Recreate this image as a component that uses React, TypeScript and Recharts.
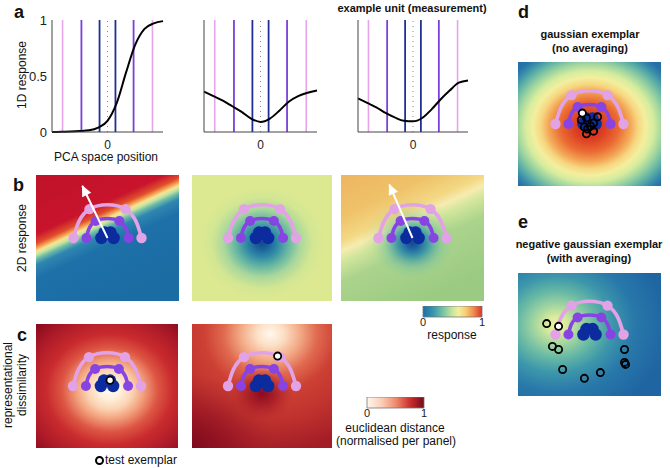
import React from 'react'
import { ComposedChart, LineChart, Line, Scatter, XAxis, YAxis, ReferenceLine, ReferenceArea } from 'recharts'

const FONT = '"Liberation Sans", Arial, Helvetica, sans-serif'

// ---- panel a: 1D responses along the PCA axis
const pcaX = [-3, -2.5, -2, -1.5, -1, -0.5, 0, 0.5, 1, 1.5, 2, 2.5, 3]
const sigmoidResp = [0, 0.002, 0.004, 0.008, 0.015, 0.04, 0.1, 0.26, 0.53, 0.78, 0.92, 0.97, 0.99]
const dipResp = [0.36, 0.32, 0.28, 0.23, 0.18, 0.12, 0.09, 0.12, 0.19, 0.27, 0.32, 0.35, 0.37]
const skewResp = [0.3, 0.26, 0.22, 0.17, 0.13, 0.1, 0.095, 0.125, 0.2, 0.29, 0.37, 0.44, 0.46]
// projected exemplar positions (one per ring, mirrored)
const projBlue = 0.43
const projPurple = 1.41
const projPink = 2.43

// ---- exemplar rings in the 2D space (pink radius = 1)
type Pt = { x: number; y: number }
const ringPink: Pt[] = [{ x: -1, y: 0 }, { x: -0.53, y: 0.85 }, { x: 0.53, y: 0.85 }, { x: 1, y: 0 }]
const ringPurple: Pt[] = [{ x: -0.62, y: 0 }, { x: -0.35, y: 0.5 }, { x: 0.35, y: 0.5 }, { x: 0.62, y: 0 }]
const ringBlue: Pt[] = [{ x: -0.18, y: 0 }, { x: -0.09, y: 0.16 }, { x: 0.09, y: 0.16 }, { x: 0.18, y: 0 }]

const arrowB1: Pt[] = [{ x: 0, y: 0 }, { x: -0.74, y: 1.53 }]
const arrowB3: Pt[] = [{ x: 0, y: 0 }, { x: -0.68, y: 1.57 }]

const testC1: Pt[] = [{ x: 0.09, y: 0.17 }]
const testC2: Pt[] = [{ x: 0.46, y: 0.88 }]
const testDWhite: Pt[] = [{ x: -0.21, y: 0.32 }]
const testD: Pt[] = [
  { x: -0.24, y: 0.12 }, { x: -0.09, y: 0.18 }, { x: 0.24, y: 0.21 }, { x: 0.12, y: 0.03 },
  { x: -0.15, y: -0.09 }, { x: -0.06, y: -0.15 }, { x: -0.09, y: -0.29 }, { x: 0.12, y: -0.21 },
  { x: 0.03, y: -0.06 },
]
const testEWhite: Pt[] = [{ x: -0.91, y: 0.24 }]
const testE: Pt[] = [
  { x: -1.26, y: 0.32 }, { x: -1.09, y: -0.35 }, { x: -0.91, y: -0.44 }, { x: -0.79, y: -1.03 },
  { x: -0.15, y: -1.29 }, { x: 0.32, y: -1.12 }, { x: 1.03, y: -0.44 }, { x: 1.03, y: -0.82 },
  { x: 1.06, y: -0.88 },
]

const PINK = '#e2a2e6'
const PURPLE = '#8744e2'
const NAVY = '#0c2b9e'

type Stop = [number, string, number?]
type Grad = { id: string; radial?: boolean; geo: Record<string, number>; stops: Stop[] }

const respStops: Stop[] = [[0, '#1d6ea6'], [0.18, '#3a98ad'], [0.35, '#7dc6a2'], [0.5, '#c8e59c'], [0.6, '#f2ef9f'], [0.72, '#f7cf78'], [0.86, '#f08a4b'], [1, '#d7342a']]
const redStops: Stop[] = [[0, '#fff6ee'], [0.25, '#fbd0ba'], [0.5, '#f08c6e'], [0.75, '#cc302e'], [1, '#760a1b']]

const diag = { x1: 0.22, y1: -0.19, x2: 0.78, y2: 0.88 }

const gradsB1: Grad[] = [
  { id: 'b1', geo: diag, stops: [[0, '#bd1229'], [0.4, '#c8142c'], [0.455, '#e04e2e'], [0.48, '#f3a04f'], [0.5, '#f5e496'], [0.52, '#c6e4a0'], [0.545, '#6cbaa8'], [0.58, '#2f86b0'], [0.66, '#1d70a8'], [1, '#1c6ca4']] },
]
const gradsB2: Grad[] = [
  { id: 'b2', radial: true, geo: { cx: 0.5, cy: 0.54, r: 0.45 }, stops: [[0, '#16498a'], [0.1, '#1b5f9a'], [0.25, '#2f8aa6'], [0.42, '#66b6a3'], [0.6, '#a9d79c'], [0.8, '#d2e693'], [1, '#dde991']] },
]
const gradsB3: Grad[] = [
  { id: 'b3a', geo: diag, stops: [[0, '#edb35d'], [0.3, '#efc26a'], [0.44, '#f3d884'], [0.5, '#f6ecb0'], [0.56, '#d2e69c'], [0.68, '#abd38c'], [1, '#9bcb82']] },
  { id: 'b3b', radial: true, geo: { cx: 0.5, cy: 0.54, r: 0.36 }, stops: [[0, '#16498a', 1], [0.12, '#1d63a0', 1], [0.3, '#3593a8', 0.9], [0.55, '#76c0a0', 0.5], [0.8, '#a6d48f', 0.15], [1, '#a6d48f', 0]] },
]
const gradsC1: Grad[] = [
  { id: 'c1', radial: true, geo: { cx: 0.52, cy: 0.53, r: 0.72 }, stops: [[0, '#fffdf5'], [0.1, '#fff1de'], [0.22, '#fbd3b2'], [0.33, '#f2a07c'], [0.47, '#dd5643'], [0.62, '#c92b2e'], [0.82, '#ae1b28'], [1, '#8c0c1f']] },
]
const gradsC2: Grad[] = [
  { id: 'c2a', radial: true, geo: { cx: 0.56, cy: 0.08, r: 0.95 }, stops: [[0, '#fff8ee'], [0.1, '#fce0c6'], [0.22, '#f3ac88'], [0.35, '#e06a50'], [0.5, '#cd4034'], [0.72, '#c0322e'], [1, '#a31d27']] },
  { id: 'c2b', radial: true, geo: { cx: 0, cy: 1, r: 0.6 }, stops: [[0, '#7a081b', 0.9], [0.5, '#8e0f21', 0.5], [1, '#a31d27', 0]] },
  { id: 'c2c', radial: true, geo: { cx: 0.5, cy: 0.56, r: 0.22 }, stops: [[0, '#8a0a1e', 1], [0.4, '#9c1424', 0.75], [1, '#b02028', 0]] },
]
const gradsD: Grad[] = [
  { id: 'dg', radial: true, geo: { cx: 0.5, cy: 0.52, r: 0.68 }, stops: [[0, '#cf2a1e'], [0.15, '#db3d22'], [0.3, '#ea6a33'], [0.42, '#f3a656'], [0.5, '#f7d680'], [0.58, '#f3ef9e'], [0.66, '#d6ec9e'], [0.75, '#9dd4a0'], [0.85, '#5cb0a6'], [0.93, '#3889ab'], [1, '#2470a8']] },
]
const gradsE: Grad[] = [
  { id: 'eg', radial: true, geo: { cx: 0.27, cy: 0.42, r: 0.78 }, stops: [[0, '#f0f29c'], [0.08, '#dcec9c'], [0.2, '#a4d6a0'], [0.35, '#66b8a5'], [0.5, '#3d97aa'], [0.7, '#2878aa'], [1, '#1f65a2']] },
]

const GradDef = ({ g }: { g: Grad }) => {
  const stops = g.stops.map(([o, c, a], i) => <stop key={i} offset={o} stopColor={c} stopOpacity={a ?? 1} />)
  return g.radial
    ? <radialGradient id={g.id} {...g.geo}>{stops}</radialGradient>
    : <linearGradient id={g.id} {...g.geo}>{stops}</linearGradient>
}

const circleShape = (r: number, fill: string, stroke = 'none', sw = 0) => (p: any) =>
  <circle cx={p.cx} cy={p.cy} r={r} fill={fill} stroke={stroke} strokeWidth={sw} />

const arrowHead = (dir: Pt) => (p: any) => {
  const ang = (Math.atan2(-dir.y, dir.x) * 180) / Math.PI
  return <polygon points="1,0 -10,-5 -10,5" transform={`translate(${p.cx},${p.cy}) rotate(${ang})`} fill="#fff" />
}

const rings = [
  { data: ringPink, color: PINK, r: 5.2 },
  { data: ringPurple, color: PURPLE, r: 5 },
  { data: ringBlue, color: NAVY, r: 6.2 },
]

type HeatProps = {
  left: number; top: number; width: number; height: number; grads: Grad[]
  arrow?: Pt[]; tests?: Pt[]; whiteTests?: Pt[]
}

const Heatmap = ({ left, top, width, height, grads, arrow, tests, whiteTests }: HeatProps) => {
  const xr = width / 68
  const yr = height / 68
  return (
    <div style={{ position: 'absolute', left, top }}>
      <ComposedChart width={width} height={height} margin={{ top: 0, right: 0, bottom: 0, left: 0 }}>
        <defs>{grads.map(g => <GradDef key={g.id} g={g} />)}</defs>
        <XAxis type="number" dataKey="x" domain={[-xr, xr]} hide allowDataOverflow />
        <YAxis type="number" dataKey="y" domain={[-yr, yr]} hide allowDataOverflow />
        {grads.map(g => (
          <ReferenceArea key={g.id} x1={-xr} x2={xr} y1={-yr} y2={yr} fill={`url(#${g.id})`} fillOpacity={1} stroke="none" />
        ))}
        {rings.map((rg, i) => (
          <Line key={'l' + i} data={rg.data} dataKey="y" type="natural" stroke={rg.color} strokeWidth={3.6} dot={false} activeDot={false} isAnimationActive={false} />
        ))}
        {rings.map((rg, i) => (
          <Scatter key={'s' + i} data={rg.data} dataKey="y" shape={circleShape(rg.r, rg.color)} isAnimationActive={false} />
        ))}
        {tests && <Scatter data={tests} dataKey="y" shape={circleShape(3.6, 'none', '#000', 1.8)} isAnimationActive={false} />}
        {whiteTests && <Scatter data={whiteTests} dataKey="y" shape={circleShape(3.6, '#fff', '#000', 1.8)} isAnimationActive={false} />}
        {arrow && <Scatter data={arrow} dataKey="y" line={{ stroke: '#fff', strokeWidth: 2 }} shape={() => <g />} isAnimationActive={false} />}
        {arrow && <Scatter data={[arrow[1]]} dataKey="y" shape={arrowHead(arrow[1])} isAnimationActive={false} />}
      </ComposedChart>
    </div>
  )
}

type TuneProps = { left: number; width: number; yAxisW: number; right: number; values: number[]; labels: boolean }

const Tuning = ({ left, width, yAxisW, right, values, labels }: TuneProps) => {
  const data = pcaX.map((x, i) => ({ x, y: values[i] }))
  const vlines = [
    { x: -projPink, c: '#e6a4ea', w: 1.6 }, { x: projPink, c: '#e6a4ea', w: 1.6 },
    { x: -projPurple, c: '#7b3fd9', w: 1.8 }, { x: projPurple, c: '#7b3fd9', w: 1.8 },
    { x: -projBlue, c: '#1f2f96', w: 1.8 }, { x: projBlue, c: '#1f2f96', w: 1.8 },
  ]
  return (
    <div style={{ position: 'absolute', left, top: 0 }}>
      <LineChart width={width} height={165} data={data} margin={{ top: 20, right, bottom: 13, left: 0 }}>
        <XAxis type="number" dataKey="x" domain={[-3, 3]} ticks={[0]} tickLine={false} stroke="#444" height={20}
          tick={{ fill: '#222', fontSize: 12 }} />
        <YAxis type="number" domain={[0, 1]} ticks={[0, 0.5, 1]} width={yAxisW} stroke="#444" tickLine={false}
          tickSize={3} tickMargin={2} tick={labels ? { fill: '#222', fontSize: 13 } : false} />
        <ReferenceLine x={0} stroke="#888" strokeDasharray="1 4" />
        {vlines.map((v, i) => <ReferenceLine key={i} x={v.x} stroke={v.c} strokeWidth={v.w} />)}
        <Line dataKey="y" type="monotone" stroke="#000" strokeWidth={2} dot={false} activeDot={false} isAnimationActive={false} />
      </LineChart>
    </div>
  )
}

const ColorBar = ({ left, top, width, id, stops }: { left: number; top: number; width: number; id: string; stops: Stop[] }) => (
  <div style={{ position: 'absolute', left: left - 6, top }}>
    <ComposedChart width={width + 12} height={23} data={[{ x: 0, y: 0 }, { x: 1, y: 1 }]} margin={{ top: 0, right: 6, bottom: 0, left: 6 }}>
      <defs><GradDef g={{ id, geo: { x1: 0, y1: 0, x2: 1, y2: 0 }, stops }} /></defs>
      <XAxis type="number" dataKey="x" domain={[0, 1]} ticks={[0, 1]} axisLine={false} tickLine={false} tickSize={0}
        tickMargin={1} height={12} interval={0} tick={{ fill: '#222', fontSize: 11 }} />
      <YAxis type="number" dataKey="y" domain={[0, 1]} hide />
      <ReferenceArea x1={0} x2={1} y1={0} y2={1} fill={`url(#${id})`} fillOpacity={1} stroke="#777" strokeWidth={0.8} />
    </ComposedChart>
  </div>
)

type TxtProps = { x: number; y: number; size?: number; bold?: boolean; align?: 'start' | 'middle'; rot?: boolean; children: React.ReactNode }
const Txt = ({ x, y, size = 12, bold = false, align = 'middle', rot = false, children }: TxtProps) => (
  <div style={{
    position: 'absolute', left: x, top: y, fontSize: size, fontWeight: bold ? 700 : 400, lineHeight: 1,
    whiteSpace: 'nowrap', color: '#111',
    transform: `translate(${align === 'middle' ? '-50%' : '0'}, -50%)${rot ? ' rotate(-90deg)' : ''}`,
  }}>{children}</div>
)

export default function App() {
  return (
    <div style={{ position: 'absolute', left: 0, top: 0, width: 670, height: 468, background: '#fff', fontFamily: FONT, overflow: 'hidden' }}>
      {/* a */}
      <Tuning left={0} width={170} yAxisW={52} right={7} values={sigmoidResp} labels />
      <Tuning left={194} width={130} yAxisW={10} right={7} values={dipResp} labels={false} />
      <Tuning left={348} width={125} yAxisW={10} right={5} values={skewResp} labels={false} />
      <Txt x={14} y={12} size={18} bold align="start">a</Txt>
      <Txt x={22} y={75} rot>1D response</Txt>
      <Txt x={106} y={157}>PCA space position</Txt>
      <Txt x={412} y={8} size={11} bold>example unit (measurement)</Txt>

      {/* b */}
      <Txt x={13} y={185} size={18} bold align="start">b</Txt>
      <Txt x={22} y={238} rot>2D response</Txt>
      <Heatmap left={36} top={175} width={143} height={126} grads={gradsB1} arrow={arrowB1} />
      <Heatmap left={192} top={175} width={140} height={126} grads={gradsB2} />
      <Heatmap left={341} top={175} width={143} height={126} grads={gradsB3} arrow={arrowB3} />
      <ColorBar left={423} top={306} width={59} id="respbar" stops={respStops} />
      <Txt x={452} y={335}>response</Txt>

      {/* c */}
      <Txt x={17} y={335} size={18} bold align="start">c</Txt>
      <Txt x={8} y={385} rot>representational</Txt>
      <Txt x={22} y={385} rot>dissimilarity</Txt>
      <Heatmap left={36} top={324} width={142} height={124} grads={gradsC1} whiteTests={testC1} />
      <Heatmap left={192} top={324} width={140} height={124} grads={gradsC2} whiteTests={testC2} />
      <ColorBar left={367} top={397} width={57} id="redbar" stops={redStops} />
      <Txt x={395} y={428}>euclidean distance</Txt>
      <Txt x={396} y={441}>(normalised per panel)</Txt>
      <div style={{ position: 'absolute', left: 95, top: 456, width: 5, height: 5, borderRadius: '50%', border: '2px solid #000', background: '#fff' }} />
      <Txt x={105} y={460} align="start">test exemplar</Txt>

      {/* d */}
      <Txt x={518} y={12} size={18} bold align="start">d</Txt>
      <Txt x={590} y={34} size={11} bold>gaussian exemplar</Txt>
      <Txt x={590} y={48} size={11} bold>(no averaging)</Txt>
      <Heatmap left={518} top={62} width={143} height={124} grads={gradsD} tests={testD} whiteTests={testDWhite} />

      {/* e */}
      <Txt x={518} y={222} size={18} bold align="start">e</Txt>
      <Txt x={589} y={244} size={11} bold>negative gaussian exemplar</Txt>
      <Txt x={589} y={258} size={11} bold>(with averaging)</Txt>
      <Heatmap left={518} top={273} width={143} height={123} grads={gradsE} tests={testE} whiteTests={testEWhite} />
    </div>
  )
}
